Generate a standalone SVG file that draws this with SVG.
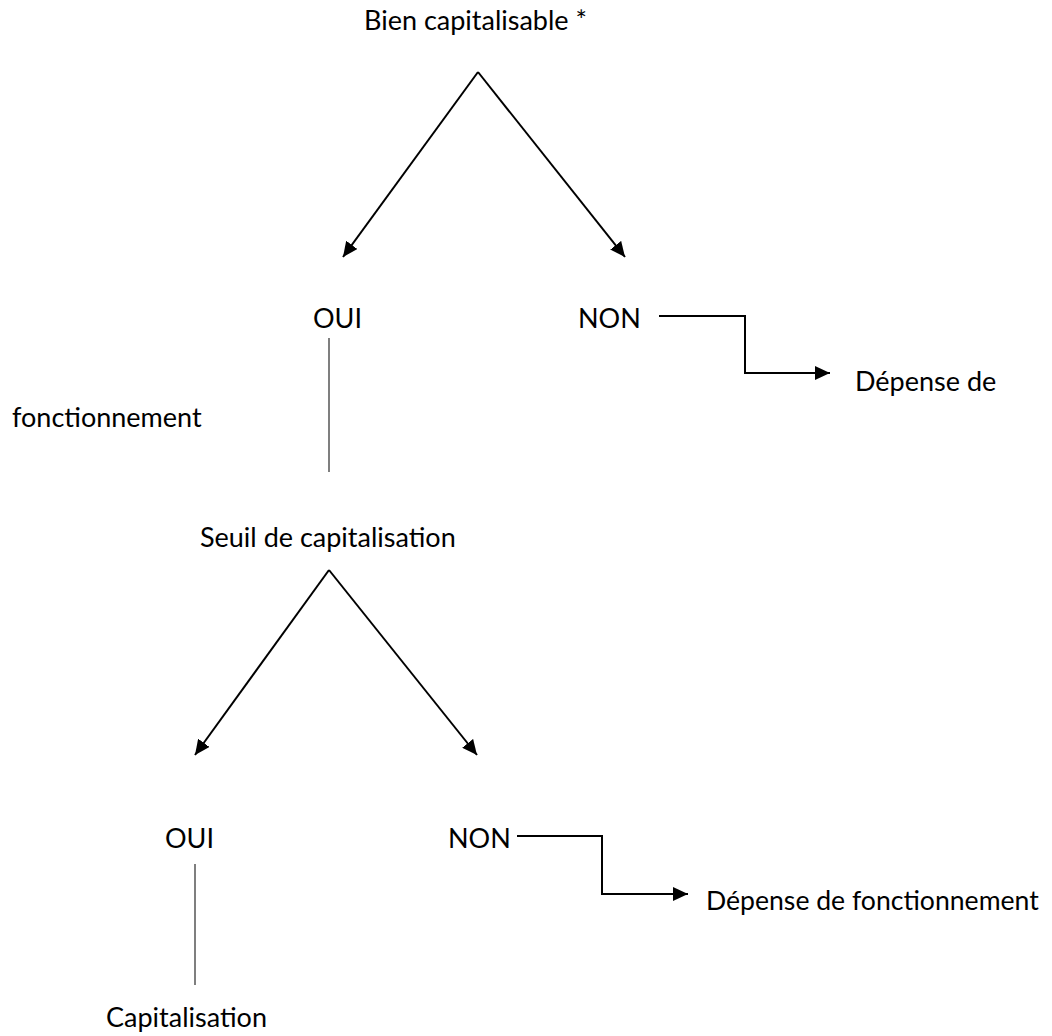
<svg xmlns="http://www.w3.org/2000/svg" width="1052" height="1036" viewBox="0 0 1052 1036">
<defs>
<marker id="ah" viewBox="0 0 12 12" refX="12" refY="6" markerWidth="15" markerHeight="14" markerUnits="userSpaceOnUse" orient="auto" preserveAspectRatio="none">
<path d="M0,0 L12,6 L0,12 z" fill="#000"/>
</marker>
<style>
text{font-family:"Lato","Liberation Sans",sans-serif;font-size:27px;fill:#000}
.c{fill:none;stroke:#000;stroke-width:2}
.a{marker-end:url(#ah)}
.g{fill:none;stroke:#555;stroke-width:1.5}
</style>
</defs>
<rect width="1052" height="1036" fill="#fff"/>
<g id="connectors">
<path class="c a" d="M478,72 L343,257"/>
<path class="c a" d="M478,72 L625,257"/>
<path class="c a" d="M659,316 L745,316 L745,373 L830,373"/>
<line class="g" x1="329" y1="338" x2="329" y2="472"/>
<path class="c a" d="M329,570 L195,755"/>
<path class="c a" d="M329,570 L477,755"/>
<path class="c a" d="M517,836 L602,836 L602,894 L688,894"/>
<line class="g" x1="195" y1="864" x2="195" y2="985"/>
</g>
<g id="n-bien"><text x="364" y="30">Bien capitalisable *</text></g>
<g id="n-oui1"><text x="313" y="328">OUI</text></g>
<g id="n-non1"><text x="578" y="328">NON</text></g>
<g id="n-dep1"><text x="855" y="391">Dépense de</text></g>
<g id="n-fonct"><text x="12" y="427">fonctionnement</text></g>
<g id="n-seuil"><text x="200" y="547">Seuil de capitalisation</text></g>
<g id="n-oui2"><text x="165" y="848">OUI</text></g>
<g id="n-non2"><text x="448" y="848">NON</text></g>
<g id="n-dep2"><text x="706" y="910" style="font-size:26.6px">Dépense de fonctionnement</text></g>
<g id="n-cap"><text x="106" y="1027">Capitalisation</text></g>
</svg>
